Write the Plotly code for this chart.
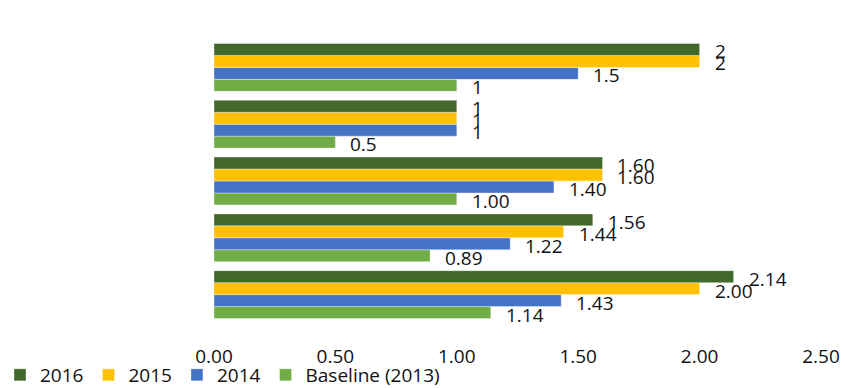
import plotly.graph_objects as go

# Groups listed bottom to top
groups = [0, 1, 2, 3, 4]
label_formats = ["{:.2f}", "{:.2f}", "{:.2f}", "{:g}", "{:g}"]

series_names = ["Baseline (2013)", "2014", "2015", "2016"]
baseline_2013 = [1.14, 0.89, 1.00, 0.5, 1]
y2014 = [1.43, 1.22, 1.40, 1, 1.5]
y2015 = [2.00, 1.44, 1.60, 1, 2]
y2016 = [2.14, 1.56, 1.60, 1, 2]
series_values = [baseline_2013, y2014, y2015, y2016]
colors = ["#70AD47", "#4472C4", "#FFC000", "#43682B"]

x_ticks = [0, 0.5, 1.0, 1.5, 2.0, 2.5]

FONT = "Open Sans"
FONT_SIZE = 19
TEXT_COLOR = "#111111"
BARGAP = 0.158

fig = go.Figure()
for name, vals, col in zip(series_names, series_values, colors):
    fig.add_trace(go.Bar(
        y=groups, x=vals, name=name, orientation="h",
        marker=dict(color=col, line=dict(color="rgba(255,255,255,0.6)", width=0.6)),
    ))

# value labels placed at the right end of each bar
n = len(series_names)
w = (1 - BARGAP) / n
for k, vals in enumerate(series_values):
    for i, v in zip(groups, vals):
        fig.add_annotation(
            x=v, y=i + (k - (n - 1) / 2) * w, xref="x", yref="y",
            text=label_formats[i].format(v), showarrow=False,
            xanchor="left", yanchor="middle", xshift=13, yshift=-2,
            font=dict(family=FONT, size=FONT_SIZE, color=TEXT_COLOR),
        )

fig.update_layout(
    width=845, height=388,
    margin=dict(l=214, r=23.5, t=38.5, b=64.5, autoexpand=False),
    paper_bgcolor="white", plot_bgcolor="white",
    barmode="group", bargap=BARGAP, bargroupgap=0,
    showlegend=True,
    legend=dict(
        orientation="h", traceorder="reversed",
        xref="container", yref="paper",
        x=0, y=-0.183, xanchor="left", yanchor="middle",
        font=dict(family=FONT, size=FONT_SIZE, color=TEXT_COLOR),
        itemwidth=30,
        bgcolor="rgba(0,0,0,0)",
    ),
    xaxis=dict(
        range=[0, 2.5], tickvals=x_ticks, tickformat=".2f",
        showgrid=False, zeroline=False, showline=False,
        ticks="", ticklabelstandoff=20,
        tickfont=dict(family=FONT, size=FONT_SIZE, color=TEXT_COLOR),
    ),
    yaxis=dict(
        range=[-0.5, 4.5], showticklabels=False, showgrid=False,
        zeroline=False, showline=False, ticks="",
    ),
)

fig.write_html("out.html")
